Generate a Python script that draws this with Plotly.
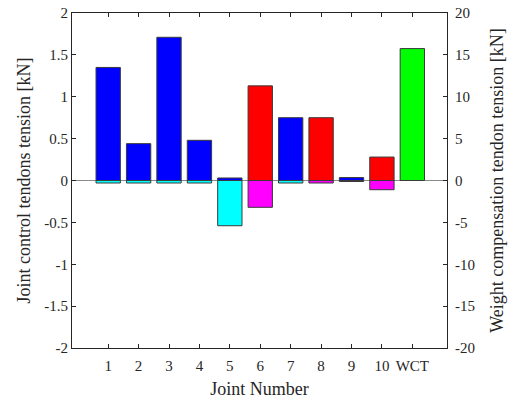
import plotly.graph_objects as go

joint_labels = ['1', '2', '3', '4', '5', '6', '7', '8', '9', '10']
joint_x = [1, 2, 3, 4, 5, 6, 7, 8, 9, 10]
# joint control tendon tension [kN]
tension_pos = [1.35, 0.44, 1.71, 0.48, 0.03, 1.13, 0.75, 0.75, 0.035, 0.28]
tension_neg = [-0.03, -0.03, -0.03, -0.03, -0.54, -0.32, -0.03, -0.03, -0.012, -0.11]
# tendon group for each joint: 'A' -> blue/cyan, 'B' -> red/magenta
joint_group = ['A', 'A', 'A', 'A', 'A', 'B', 'A', 'B', 'A', 'B']
wct_label = 'WCT'
wct_x = 11
wct_tension = 15.75  # weight compensation tendon tension [kN]

left_ticks = [-2, -1.5, -1, -0.5, 0, 0.5, 1, 1.5, 2]
left_tick_text = ['-2', '-1.5', '-1', '-0.5', '0', '0.5', '1', '1.5', '2']
right_ticks = [-20, -15, -10, -5, 0, 5, 10, 15, 20]
right_tick_text = ['-20', '-15', '-10', '-5', '0', '5', '10', '15', '20']

pos_colors = {'A': '#0000FF', 'B': '#FF0000'}
neg_colors = {'A': '#00FFFF', 'B': '#FF00FF'}

font_family = '"Liberation Serif", "Times New Roman", serif'
axis_color = '#262626'
edge = dict(color='#3a3a3a', width=1)

fig = go.Figure()
fig.add_trace(go.Bar(
    x=joint_x, y=tension_pos, width=0.8,
    marker=dict(color=[pos_colors[g] for g in joint_group], line=edge),
    showlegend=False))
fig.add_trace(go.Bar(
    x=joint_x, y=tension_neg, width=0.8,
    marker=dict(color=[neg_colors[g] for g in joint_group], line=edge),
    showlegend=False))
fig.add_trace(go.Bar(
    x=[wct_x], y=[wct_tension], width=0.8, yaxis='y2',
    marker=dict(color='#00FF00', line=edge),
    showlegend=False))

title_font = dict(family=font_family, size=18, color=axis_color)
tick_font = dict(family=font_family, size=15, color=axis_color)

fig.update_layout(
    width=513, height=401,
    margin=dict(l=72, r=66, t=13, b=53),
    plot_bgcolor='white', paper_bgcolor='white',
    barmode='overlay',
    font=dict(family=font_family, size=14, color=axis_color),
    xaxis=dict(
        range=[-0.19, 12.14], automargin=False,
        tickvals=joint_x + [wct_x],
        ticktext=joint_labels + [wct_label],
        ticks='inside', ticklen=4, tickcolor=axis_color,
        ticklabelstandoff=4,
        showline=True, linecolor=axis_color, linewidth=1, mirror='ticks',
        showgrid=False, zeroline=False,
        title=dict(text='Joint Number', font=title_font, standoff=9),
        tickfont=tick_font,
    ),
    yaxis=dict(
        range=[-2, 2], automargin=False,
        tickvals=left_ticks, ticktext=left_tick_text,
        ticks='inside', ticklen=4, tickcolor=axis_color,
        showline=True, linecolor=axis_color, linewidth=1,
        showgrid=False, zeroline=True, zerolinecolor='#8a8a8a', zerolinewidth=1,
        title=dict(text='Joint control tendons tension [kN]', font=title_font, standoff=8),
        tickfont=tick_font,
    ),
    yaxis2=dict(
        range=[-20, 20], automargin=False,
        tickvals=right_ticks, ticktext=right_tick_text,
        overlaying='y', side='right',
        ticks='inside', ticklen=4, tickcolor=axis_color,
        ticklabelstandoff=4,
        showline=True, linecolor=axis_color, linewidth=1,
        showgrid=False, zeroline=False,
        title=dict(text='Weight compensation tendon tension [kN]', font=title_font, standoff=16),
        tickfont=tick_font,
    ),
)

fig.write_html('out.html')
